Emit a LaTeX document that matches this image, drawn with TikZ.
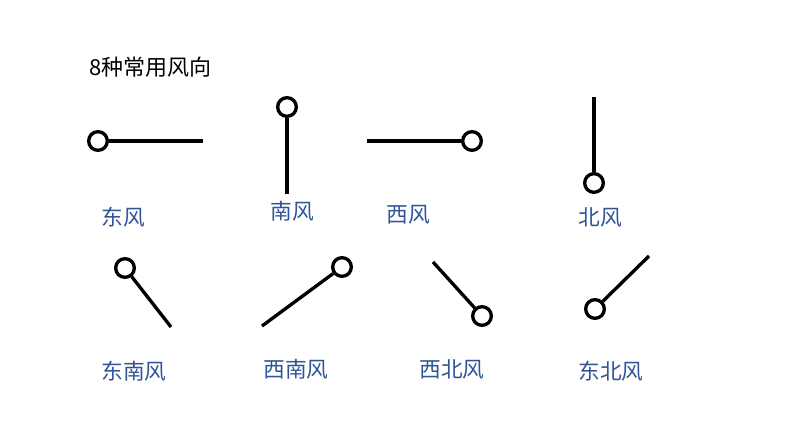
\documentclass[tikz,border=0pt]{standalone}
\usepackage{fontspec}
\setmainfont{Noto Sans CJK SC}
\definecolor{lblblue}{HTML}{2F5597}
\begin{document}
\begin{tikzpicture}[x=0.75pt,y=-0.75pt,
  ring/.style={circle,draw=black,line width=2.5pt,fill=white,minimum size=14pt,inner sep=0pt},
  stem/.style={line width=2.5pt,black},
  lbl/.style={text=lblblue,font=\fontsize{16.3pt}{19pt}\selectfont,inner sep=0pt},
  ttl/.style={text=black,font=\fontsize{16.5pt}{19pt}\selectfont,inner sep=0pt,anchor=west}]
\useasboundingbox (0,0) rectangle (794,447);
\node[ttl] (title) at (89,67) {8种常用风向};
% East
\node[ring] (c1) at (98,141) {};
\coordinate (e1) at (203,141);
\draw[stem] (c1) -- (e1);
\node[lbl] (l1) at (123,217) {东风};
% South
\node[ring] (c2) at (287,107) {};
\coordinate (e2) at (287,194);
\draw[stem] (c2) -- (e2);
\node[lbl] (l2) at (292,211) {南风};
% West
\node[ring] (c3) at (472,141) {};
\coordinate (e3) at (367,141);
\draw[stem] (c3) -- (e3);
\node[lbl] (l3) at (408,215) {西风};
% North
\node[ring] (c4) at (594,183) {};
\coordinate (e4) at (594,97);
\draw[stem] (c4) -- (e4);
\node[lbl] (l4) at (600,217) {北风};
% Southeast
\node[ring] (c5) at (125,268) {};
\coordinate (e5) at (171,327);
\draw[stem] (c5) -- (e5);
\node[lbl] (l5) at (134,371) {东南风};
% Southwest
\node[ring] (c6) at (342,267) {};
\coordinate (e6) at (262,326);
\draw[stem] (c6) -- (e6);
\node[lbl] (l6) at (296,369) {西南风};
% Northwest
\node[ring] (c7) at (482,316) {};
\coordinate (e7) at (433,262);
\draw[stem] (c7) -- (e7);
\node[lbl] (l7) at (452,369) {西北风};
% Northeast
\node[ring] (c8) at (595,309) {};
\coordinate (e8) at (649,256);
\draw[stem] (c8) -- (e8);
\node[lbl] (l8) at (611,371) {东北风};
\end{tikzpicture}
\end{document}
